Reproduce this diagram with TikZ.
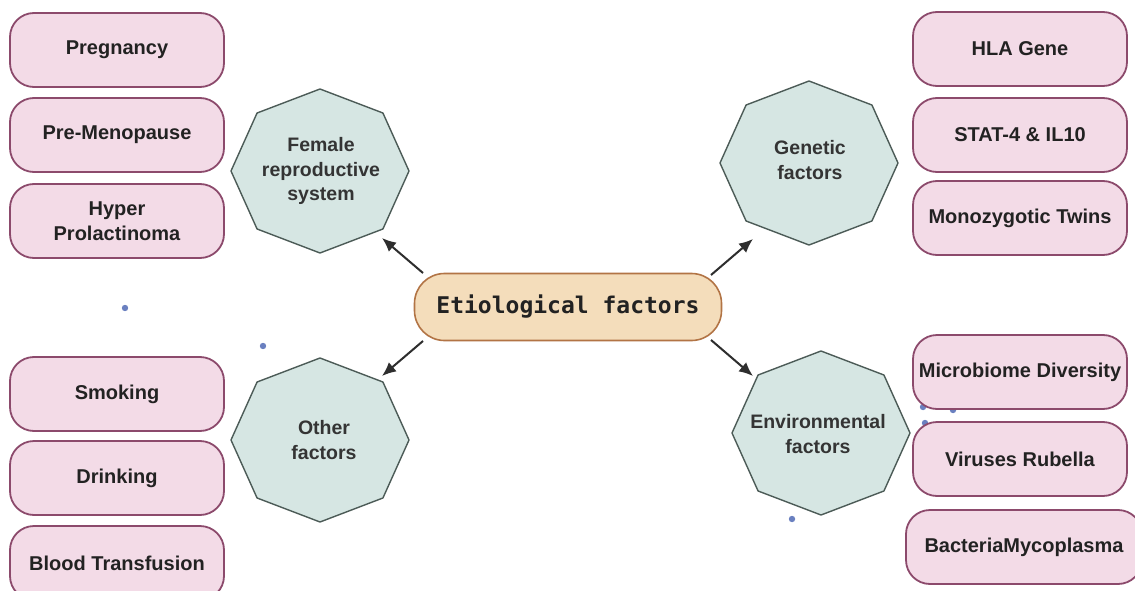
\documentclass[tikz,border=0pt]{standalone}
\usepackage{fontspec}
\setmainfont{Liberation Sans}
\newfontfamily\monof{DejaVu Sans Mono}
\usetikzlibrary{arrows.meta}
\definecolor{pinkfill}{HTML}{F3DBE7}
\definecolor{pinkline}{HTML}{8C4A6C}
\definecolor{octfill}{HTML}{D6E6E3}
\definecolor{octline}{HTML}{4C5B57}
\definecolor{ctrfill}{HTML}{F4DDBB}
\definecolor{ctrline}{HTML}{B27445}
\definecolor{dotblue}{HTML}{6A80C0}
\definecolor{txt}{HTML}{222222}
\definecolor{arrcol}{HTML}{2E2E2E}
\newcommand\octpath[1]{\draw[oct, shift={#1}] (0:89 and 82) -- (45:89 and 82) -- (90:89 and 82) -- (135:89 and 82) -- (180:89 and 82) -- (225:89 and 82) -- (270:89 and 82) -- (315:89 and 82) -- cycle;}
\begin{document}
\begin{tikzpicture}[x=1pt,y=-1pt,
 item/.style={draw=pinkline, fill=pinkfill, line width=1.8pt, rounded corners=24pt, minimum width=214pt, minimum height=74pt, inner xsep=0pt, align=center, font=\bfseries\fontsize{20}{25}\selectfont, text=txt},
 oct/.style={draw=octline, fill=octfill, line width=1.4pt, line join=round},
 octtext/.style={align=center, font=\bfseries\fontsize{19.5}{24.5}\selectfont, text=txt!92},
 ctrbox/.style={draw=ctrline, fill=ctrfill, line width=1.6pt, rounded corners=30pt, minimum width=307pt, minimum height=67pt, font=\monof\bfseries\fontsize{23}{28}\selectfont, text=txt},
 arr/.style={draw=arrcol, line width=2pt, -{Latex[length=14pt,width=12pt]}},
 dot/.style={fill=dotblue, draw=none}]
\useasboundingbox[fill=white] (0,0) rectangle (1135,591);

% small dots
\fill[dot] (125,308) circle (3.2);
\fill[dot] (263,346) circle (3.2);
\fill[dot] (792,519) circle (3.2);
\fill[dot] (923,407) circle (3.2);
\fill[dot] (953,410) circle (3.2);
\fill[dot] (925,423) circle (3.2);

% octagons
\octpath{(320,171)}
\octpath{(809,163)}
\octpath{(320,440)}
\octpath{(821,433)}
\node[octtext] (fem) at (321,171) {Female\\reproductive\\system};
\node[octtext] (gen) at (810,160) {Genetic\\factors};
\node[octtext] (oth) at (324,440) {Other\\factors};
\node[octtext] (env) at (818,434) {Environmental\\factors};

% centre
\node[ctrbox] (ctr) at (568,307) {Etiological factors};

% left boxes
\node[item] (preg) at (117,50) {Pregnancy};
\node[item] (pmen) at (117,135) {Pre-Menopause};
\node[item] (hypr) at (117,221) {Hyper\\Prolactinoma};
\node[item] (smok) at (117,394) {Smoking};
\node[item] (drnk) at (117,478) {Drinking};
\node[item] (blod) at (117,563) {Blood Transfusion};

% right boxes
\node[item] (hla) at (1020,49) {HLA Gene};
\node[item] (stat) at (1020,135) {STAT-4 \& IL10};
\node[item] (mono) at (1020,218) {Monozygotic Twins};
\node[item] (micr) at (1020,372) {Microbiome Diversity};
\node[item] (viru) at (1020,459) {Viruses Rubella};
\node[item, minimum width=236pt] (bact) at (1024,547) {BacteriaMycoplasma};

% arrows
\coordinate (t1) at (423,273); \coordinate (h1) at (382,238);
\coordinate (t2) at (711,275); \coordinate (h2) at (753,239);
\coordinate (t3) at (423,341); \coordinate (h3) at (382,376);
\coordinate (t4) at (711,340); \coordinate (h4) at (753,376);
\draw[arr] (t1) -- (h1);
\draw[arr] (t2) -- (h2);
\draw[arr] (t3) -- (h3);
\draw[arr] (t4) -- (h4);
\end{tikzpicture}
\end{document}
